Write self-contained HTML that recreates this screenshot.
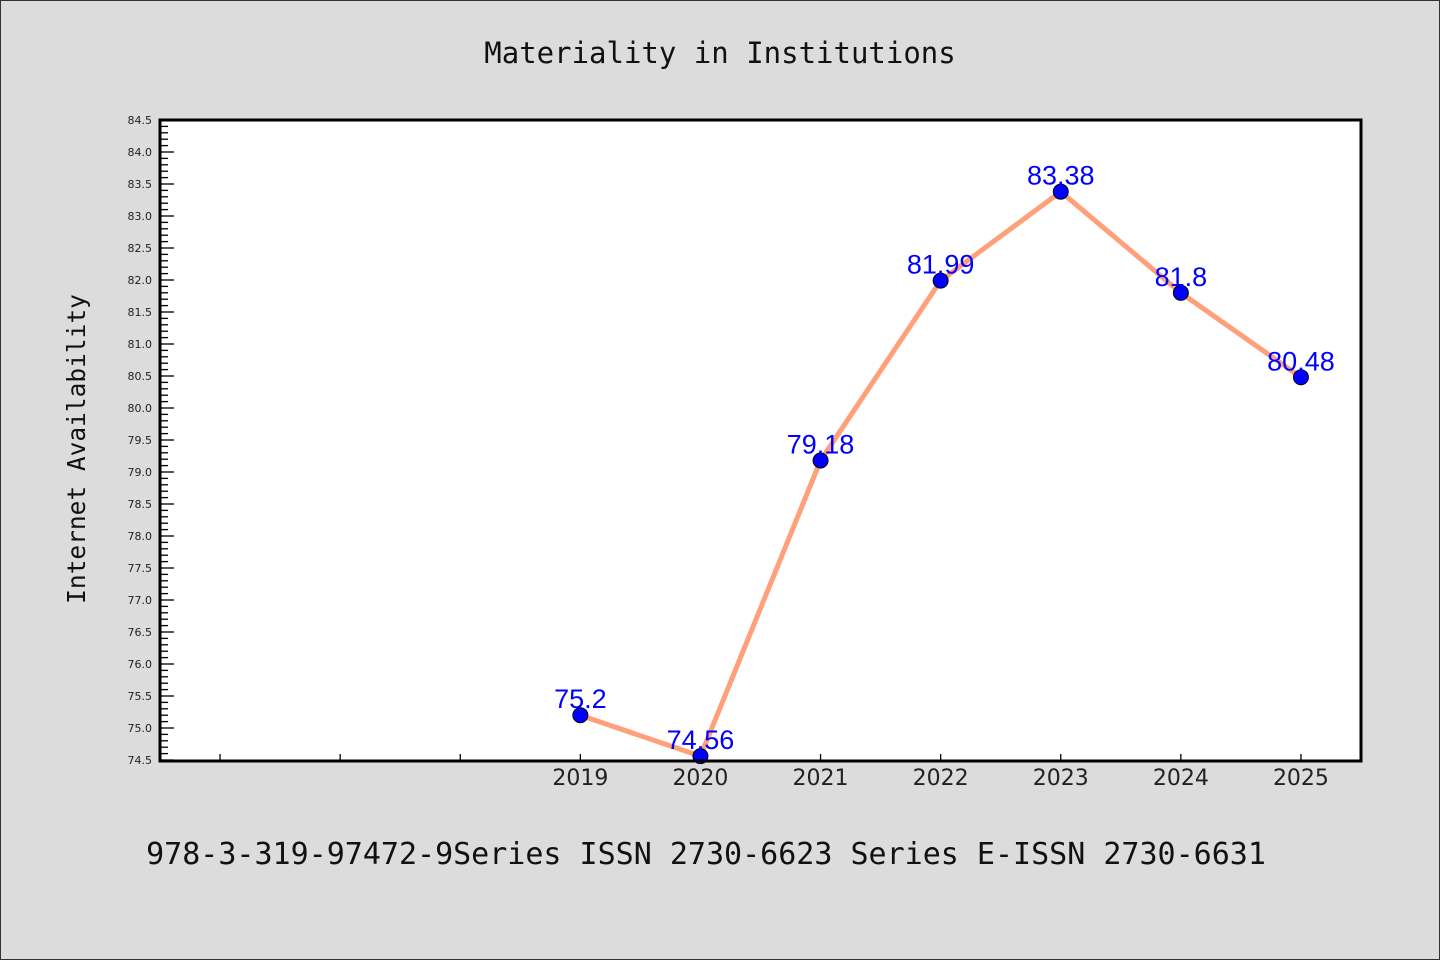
<!DOCTYPE html>
<html><head><meta charset="utf-8"><style>
html,body{margin:0;padding:0;background:#dcdcdc;}
svg{display:block;}
</style></head><body>
<svg width="1440" height="960" xmlns="http://www.w3.org/2000/svg">
<rect x="0.5" y="0.5" width="1439" height="959" fill="#dcdcdc" stroke="#333"/>
<text x="720" y="63" text-anchor="middle" font-family="'DejaVu Sans Mono','Liberation Mono',monospace" font-size="29" fill="#111">Materiality in Institutions</text>
<rect x="160" y="120" width="1201" height="641" fill="#fff"/>
<g id="yaxis"></g>
<g id="xaxis"></g>
<g id="series"></g>
<rect x="160" y="120" width="1201" height="641" fill="none" stroke="#000" stroke-width="3"/>
<text transform="translate(85,449) rotate(-90)" text-anchor="middle" font-family="'DejaVu Sans Mono','Liberation Mono',monospace" font-size="24.5" fill="#111">Internet Availability</text>
<text x="706" y="864" text-anchor="middle" font-family="'DejaVu Sans Mono','Liberation Mono',monospace" font-size="30" fill="#111">978-3-319-97472-9Series ISSN 2730-6623 Series E-ISSN 2730-6631</text>
</svg>
<script>
const categories = [2019, 2020, 2021, 2022, 2023, 2024, 2025];
const values = [75.2, 74.56, 79.18, 81.99, 83.38, 81.8, 80.48];
const labels = ["75.2", "74.56", "79.18", "81.99", "83.38", "81.8", "80.48"];
const yMin = 74.5, yMax = 84.5;
const xMin = 2015.5, xMax = 2025.5;
const NS = "http://www.w3.org/2000/svg";
const L = 160, R = 1361, T = 120, B = 760;
function xs(v){ return L + (v - xMin) / (xMax - xMin) * (R - L); }
function ys(v){ return B - (v - yMin) / (yMax - yMin) * (B - T); }
function mk(tag, attrs, parent){ const e = document.createElementNS(NS, tag); for (const k in attrs) e.setAttribute(k, attrs[k]); parent.appendChild(e); return e; }
const yg = document.getElementById('yaxis');
for (let i = 0; i <= 100; i++) {
  const v = yMin + i * 0.1; const y = ys(v); const major = i % 5 === 0;
  const t = mk('line', {x1: L, x2: L + (major ? 14 : 8), y1: y, y2: y, stroke: '#000', 'stroke-width': 1.3}, yg);
  
  
  if (major) {
    const tx = mk('text', {x: 152, y: y + 4, 'text-anchor': 'end', 'font-family': "'DejaVu Sans','Liberation Sans',sans-serif", 'font-size': 11, fill: '#222'}, yg);
    tx.textContent = v.toFixed(1);
    
    
  }
}
const xg = document.getElementById('xaxis');
for (let c = 2016; c <= 2025; c++) {
  const x = xs(c);
  const t = mk('line', {x1: x, x2: x, y1: B, y2: B - 6, stroke: '#000', 'stroke-width': 1.3}, xg);
  
  
}
categories.forEach(c => {
  const tx = mk('text', {x: xs(c), y: 785, 'text-anchor': 'middle', 'font-family': "'DejaVu Sans','Liberation Sans',sans-serif", 'font-size': 22, fill: '#222'}, xg);
  tx.textContent = c;
  
  
});
const sg = document.getElementById('series');
const pts = categories.map((c, i) => xs(c) + ',' + ys(values[i])).join(' ');
const pl = mk('polyline', {points: pts, fill: 'none', stroke: '#ffa07a', 'stroke-width': 5, 'stroke-linejoin': 'round'}, sg);


categories.forEach((c, i) => {
  const p = mk('circle', {cx: xs(c), cy: ys(values[i]), r: 7.5, fill: '#0000ff', stroke: '#000', 'stroke-width': 1}, sg);
  
  
  const tx = mk('text', {x: xs(c), y: ys(values[i]) - 7, 'text-anchor': 'middle', 'font-family': "'Liberation Sans',sans-serif", 'font-size': 27, fill: '#0000ff'}, sg);
  tx.textContent = labels[i];
  
  
});
</script>
</body></html>
